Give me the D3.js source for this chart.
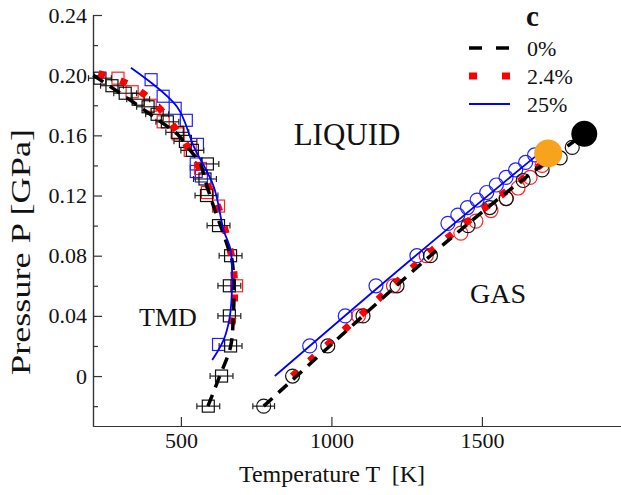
<!DOCTYPE html>
<html>
<head>
<meta charset="utf-8">
<script src="https://cdn.jsdelivr.net/npm/d3@7"></script>
<style>
  body { margin: 0; background: #fff; }
</style>
</head>
<body>
<svg id="chart" width="621" height="495"></svg>
<script>
// axis ticks
const tempTicks = [500, 1000, 1500]
const presTicks = [0, 0.04, 0.08, 0.12, 0.16, 0.20, 0.24]
const presMinor = [-0.02, 0.02, 0.06, 0.10, 0.14, 0.18, 0.22]

// legend
const legendNames = ["0%", "2.4%", "25%"]
const legendColors = ["#000", "#f00", "#00f"]

// TMD branch, squares
const tmdT0 = [231, 271, 315, 358, 391, 421, 455, 488, 515, 538, 588, 580, 585, 625, 665, 661, 661, 665, 635, 591]
const tmdP0 = [0.198, 0.193, 0.188, 0.184, 0.179, 0.174, 0.169, 0.162, 0.156, 0.150, 0.141, 0.131, 0.120, 0.100, 0.080, 0.060, 0.040, 0.020, 0.000, -0.020]
const tmdErr0 = 38
const tmdT24 = [291, 338, 398, 441, 491, 531, 565, 588, 625, 685]
const tmdP24 = [0.198, 0.189, 0.180, 0.169, 0.161, 0.150, 0.138, 0.122, 0.113, 0.060]
const tmdT25 = [401, 441, 481, 518, 555, 551, 551, 568, 625]
const tmdP25 = [0.197, 0.186, 0.178, 0.170, 0.154, 0.141, 0.136, 0.133, 0.021]

// TMD fitted lines
const tmdLineT0 = [209, 342, 426, 487, 531, 565, 581, 609, 637, 659, 670, 676, 674, 665, 629, 589]
const tmdLineP0 = [0.200, 0.182, 0.170, 0.161, 0.150, 0.141, 0.130, 0.1125, 0.097, 0.084, 0.077, 0.057, 0.039, 0.0195, 0, -0.0204]
const tmdLineT24 = [226, 326, 409, 476, 535, 581, 626, 654, 674, 678, 665]
const tmdLineP24 = [0.201, 0.194, 0.182, 0.166, 0.148, 0.130, 0.111, 0.0916, 0.0727, 0.0505, 0.028]
const tmdLineT25 = [334, 487, 543, 609, 642, 665, 670, 662, 642, 604]
const tmdLineP25 = [0.205, 0.179, 0.1525, 0.126, 0.097, 0.084, 0.0616, 0.039, 0.024, 0.0106]

// gas branch, circles
const gasT0 = [775, 871, 988, 1105, 1218, 1329, 1454, 1526, 1581, 1637, 1700, 1760, 1800]
const gasP0 = [-0.02, 0, 0.02, 0.04, 0.06, 0.08, 0.10, 0.112, 0.118, 0.130, 0.137, 0.145, 0.152]
const gasErr0 = 36
const gasT24 = [1090, 1206, 1315, 1430, 1480, 1530, 1580, 1620, 1660, 1700, 1740]
const gasP24 = [0.04, 0.06, 0.08, 0.095, 0.103, 0.11, 0.118, 0.125, 0.132, 0.14, 0.147]
const gasT25 = [928, 1046, 1148, 1284, 1387, 1420, 1452, 1484, 1516, 1548, 1580, 1612, 1645, 1675]
const gasP25 = [0.02, 0.04, 0.06, 0.08, 0.1015, 0.107, 0.112, 0.117, 0.122, 0.127, 0.132, 0.137, 0.142, 0.147]

// gas fitted lines
const gasLineT0 = [775, 1000, 1329, 1600, 1840]
const gasLineP0 = [-0.02, 0.021, 0.08, 0.125, 0.161]
const gasLineT24 = [870, 1100, 1320, 1550, 1760]
const gasLineP24 = [0, 0.041, 0.081, 0.118, 0.150]
const gasLineT25 = [812, 1250, 1690]
const gasLineP25 = [0, 0.075, 0.148]

// critical points
const critT = [1720, 1840]
const critP = [0.148, 0.161]
const critColors = ["#f7a41c", "#000"]

const serif = '"Liberation Serif"'

const svg = d3.select('#chart')

const x = d3.scaleLinear().domain([208, 1962]).range([93, 621])
const y = d3.scaleLinear().domain([-0.0332, 0.24]).range([426, 15])

const zip = (a, b) => a.map((v, i) => [v, b[i]])

// axes
svg.append('g')
  .attr('transform', 'translate(93,0)')
  .call(d3.axisLeft(y).tickValues(presTicks).tickSize(-9).tickSizeOuter(0).tickPadding(6)
    .tickFormat(d => d === 0 ? "0" : d3.format(".2f")(d)))
svg.append('g')
  .attr('transform', 'translate(93,0)')
  .call(d3.axisLeft(y).tickValues(presMinor).tickSize(-5).tickSizeOuter(0).tickFormat(''))
svg.append('g')
  .attr('transform', 'translate(0,426)')
  .call(d3.axisBottom(x).tickValues(tempTicks).tickSize(-9).tickSizeOuter(0).tickPadding(6)
    .tickFormat(d3.format('d')))

svg.selectAll('.domain, .tick line').attr('stroke', '#333').attr('stroke-width', 1.2)
svg.selectAll('.tick text')
  .style('font-family', serif)
  .style('font-size', '22px')
  .attr('fill', '#111')

// axis titles
svg.append('text')
  .attr('x', 332).attr('y', 482)
  .attr('text-anchor', 'middle')
  .style('font-family', serif)
  .style('font-size', '24px')
  .style('white-space', 'pre')
  .attr('fill', '#111')
  .text("Temperature T  [K]")
svg.append('text')
  .attr('transform', 'translate(30,252) rotate(-90)')
  .attr('text-anchor', 'middle')
  .style('font-family', serif)
  .style('font-size', '28px')
  .attr('textLength', 246)
  .attr('lengthAdjust', 'spacingAndGlyphs')
  .attr('fill', '#111')
  .text("Pressure P [GPa]")

// region labels
const regionLabels = [
  { text: "LIQUID", x: 347, y: 145, anchor: 'middle', size: 31 },
  { text: "TMD", x: 139, y: 326, anchor: 'start', size: 26 },
  { text: "GAS", x: 470, y: 303, anchor: 'start', size: 28 }
]
regionLabels.forEach(l => {
  svg.append('text')
    .attr('x', l.x).attr('y', l.y)
    .attr('text-anchor', l.anchor)
    .style('font-family', serif)
    .style('font-size', l.size + 'px')
    .attr('fill', '#111')
    .text(l.text)
})

function squares(T, P, color) {
  svg.append('g').selectAll('rect')
    .data(zip(T, P))
    .enter()
    .append('rect')
    .attr('x', d => x(d[0]) - 6)
    .attr('y', d => y(d[1]) - 6)
    .attr('width', 12)
    .attr('height', 12)
    .attr('fill', 'none')
    .attr('stroke', color)
    .attr('stroke-width', 1.2)
}

function circles(T, P, color) {
  svg.append('g').selectAll('circle')
    .data(zip(T, P))
    .enter()
    .append('circle')
    .attr('cx', d => x(d[0]))
    .attr('cy', d => y(d[1]))
    .attr('r', 7)
    .attr('fill', 'none')
    .attr('stroke', color)
    .attr('stroke-width', 1.2)
}

function errorBars(T, P, err) {
  const g = svg.append('g').attr('stroke', '#222').attr('stroke-width', 1.2)
  const pts = zip(T, P)
  g.selectAll('line.bar').data(pts).enter().append('line')
    .attr('x1', d => x(d[0] - err)).attr('x2', d => x(d[0] + err))
    .attr('y1', d => y(d[1])).attr('y2', d => y(d[1]))
  g.selectAll('line.capl').data(pts).enter().append('line')
    .attr('x1', d => x(d[0] - err)).attr('x2', d => x(d[0] - err))
    .attr('y1', d => y(d[1]) - 3).attr('y2', d => y(d[1]) + 3)
  g.selectAll('line.capr').data(pts).enter().append('line')
    .attr('x1', d => x(d[0] + err)).attr('x2', d => x(d[0] + err))
    .attr('y1', d => y(d[1]) - 3).attr('y2', d => y(d[1]) + 3)
}

squares(tmdT25, tmdP25, '#22f')
squares(tmdT24, tmdP24, '#f22')
errorBars(tmdT0, tmdP0, tmdErr0)
squares(tmdT0, tmdP0, '#111')

circles(gasT25, gasP25, '#22f')
circles(gasT24, gasP24, '#f22')
errorBars(gasT0.slice(0, 1), gasP0.slice(0, 1), gasErr0)
circles(gasT0, gasP0, '#111')

// fitted lines
const line = d3.line().x(d => x(d[0])).y(d => y(d[1])).curve(d3.curveCatmullRom)

const styles = [
  { color: '#f00', width: 7, dash: '7,16' },
  { color: '#000', width: 3.5, dash: '12,8' },
  { color: '#00f', width: 1.8, dash: null }
]
const tmdLines = [zip(tmdLineT24, tmdLineP24), zip(tmdLineT0, tmdLineP0), zip(tmdLineT25, tmdLineP25)]
const gasLines = [zip(gasLineT24, gasLineP24), zip(gasLineT0, gasLineP0), zip(gasLineT25, gasLineP25)]

styles.forEach((s, i) => {
  [tmdLines[i], gasLines[i]].forEach(pts => {
    svg.append('path')
      .attr('d', line(pts))
      .attr('fill', 'none')
      .attr('stroke', s.color)
      .attr('stroke-width', s.width)
      .attr('stroke-dasharray', s.dash)
  })
})

// critical points
svg.append('g').selectAll('circle')
  .data(zip(critT, critP))
  .enter()
  .append('circle')
  .attr('cx', d => x(d[0]))
  .attr('cy', d => y(d[1]))
  .attr('r', (d, i) => i === 0 ? 14 : 13)
  .attr('fill', (d, i) => critColors[i])

// legend
svg.append('text')
  .attr('x', 526).attr('y', 26)
  .style('font-family', serif)
  .style('font-size', '29px')
  .style('font-weight', 'bold')
  .attr('fill', '#111')
  .text("c")

const legendDash = ['13,14', '8,25', null]
const legendWidth = [3.5, 7, 1.8]
const legend = svg.append('g')
legendNames.forEach((name, i) => {
  const ly = 48 + i * 28
  legend.append('line')
    .attr('x1', 469).attr('x2', 510)
    .attr('y1', ly).attr('y2', ly)
    .attr('stroke', legendColors[i])
    .attr('stroke-width', legendWidth[i])
    .attr('stroke-dasharray', legendDash[i])
  legend.append('text')
    .attr('x', 527).attr('y', ly + 8)
    .style('font-family', serif)
    .style('font-size', '22px')
    .attr('fill', '#111')
    .text(name)
})
</script>
</body>
</html>
